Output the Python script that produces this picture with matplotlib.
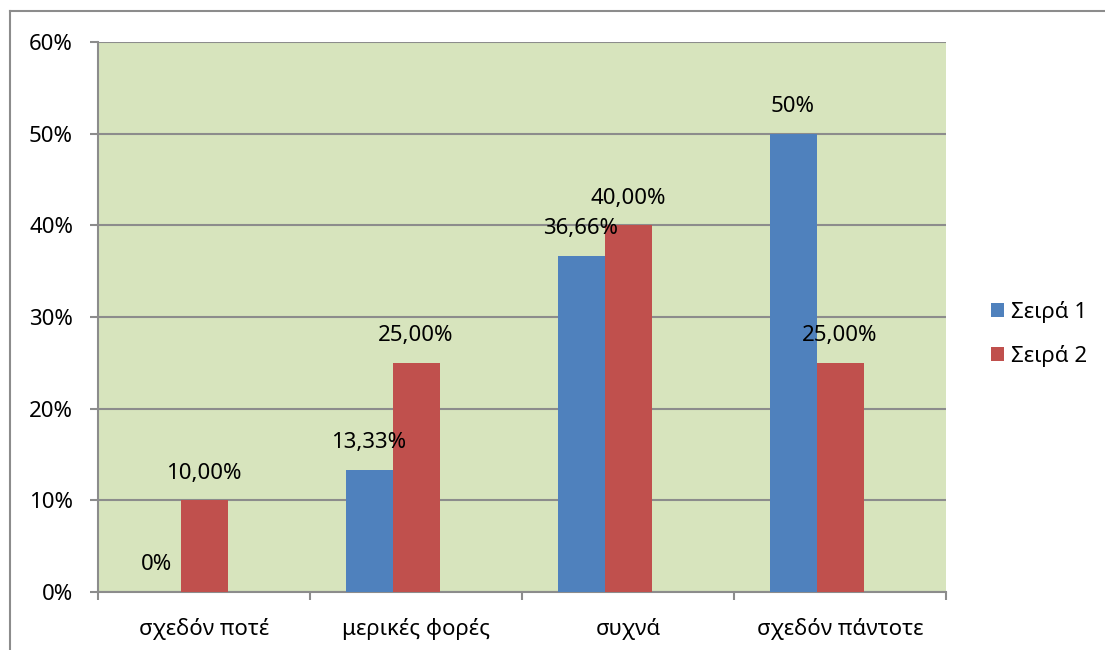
import numpy as np
import matplotlib
matplotlib.use("Agg")
import matplotlib.pyplot as plt
from matplotlib.lines import Line2D

plt.rcParams['font.family'] = ['Noto Sans', 'DejaVu Sans']

categories = ["σχεδόν ποτέ", "μερικές φορές", "συχνά", "σχεδόν πάντοτε"]
series_names = ["Σειρά 1", "Σειρά 2"]
series1 = [0.0, 13.33, 36.66, 50.0]
series2 = [10.0, 25.0, 40.0, 25.0]
labels1 = ["0%", "13,33%", "36,66%", "50%"]
labels2 = ["10,00%", "25,00%", "40,00%", "25,00%"]
y_ticks = [0, 10, 20, 30, 40, 50, 60]

BLUE = "#4f81bd"
RED = "#c0504d"
BG = "#d7e4bd"
GRID = "#8c8c8c"
FS = 16

fig = plt.figure(figsize=(11.05, 6.5), dpi=100)
ax = fig.add_axes([98 / 1105, 1 - 592 / 650, 848 / 1105, 550 / 650])
ax.set_facecolor(BG)

# figure frame (left and top only)
fig.add_artist(Line2D([10 / 1105, 10 / 1105], [0, 1 - 11 / 650], transform=fig.transFigure,
                      color="#8c8c8c", linewidth=1.5))
fig.add_artist(Line2D([10 / 1105, 1], [1 - 11 / 650, 1 - 11 / 650], transform=fig.transFigure,
                      color="#8c8c8c", linewidth=1.5))

x = np.arange(len(categories))
w = 47 / 212
b1 = ax.bar(x - w, series1, width=w, color=BLUE, label=series_names[0], zorder=3)
b2 = ax.bar(x, series2, width=w, color=RED, label=series_names[1], zorder=3)

for bars, labs in ((b1, labels1), (b2, labels2)):
    for rect, lab in zip(bars, labs):
        ax.annotate(lab, (rect.get_x() + rect.get_width() / 2, rect.get_height()),
                    xytext=(0, 19.5), textcoords="offset points",
                    ha="center", va="center", fontsize=FS, zorder=4)

ax.set_xlim(-0.5, len(categories) - 0.5)
ax.set_ylim(0, 60)
ax.set_yticks(y_ticks)
ax.set_yticklabels([f"{t}%" for t in y_ticks])
ax.yaxis.grid(True, color=GRID, linewidth=1.5, zorder=1)
ax.set_axisbelow(True)

ax.set_xticks(x)
ax.set_xticklabels(categories)
ax.set_xticks(np.arange(len(categories) + 1) - 0.5, minor=True)
ax.tick_params(axis="x", which="major", length=0, pad=19, labelsize=FS)
ax.tick_params(axis="x", which="minor", length=6, color=GRID, width=1.5)
ax.tick_params(axis="y", length=6, color=GRID, width=1.5, pad=12, labelsize=FS)

for side in ("top", "right"):
    ax.spines[side].set_visible(False)
for side in ("left", "bottom"):
    ax.spines[side].set_color(GRID)
    ax.spines[side].set_linewidth(1.5)

fig.legend(handles=[b1, b2], loc="center left", bbox_to_anchor=(971 / 1105, 1 - 334 / 650),
           frameon=False, fontsize=FS, handlelength=0.6, handleheight=0.6,
           handletextpad=0.3, labelspacing=1.0)

fig.savefig("out.png", dpi=100)
